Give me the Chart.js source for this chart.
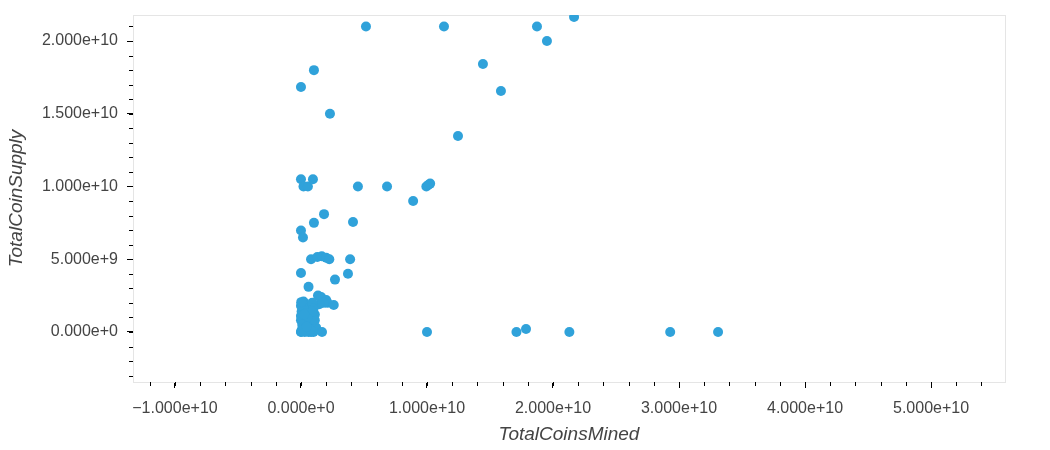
<!DOCTYPE html>
<html>
<head>
<meta charset="utf-8">
<script src="https://cdn.jsdelivr.net/npm/chart.js@4/dist/chart.umd.min.js"></script>
<style>
  html, body { margin: 0; padding: 0; background: #fff; }
  #wrap { width: 1050px; height: 450px; }
</style>
</head>
<body>
<div id="wrap"><canvas id="chart" width="1050" height="450"></canvas></div>
<script>
// Data (coins mined vs coin supply)
const coinsMined = [
    5.16e9, 1.135e10, 1.873e10, 2.167e10, 1.952e10, 1.444e10, 1.587e10, 1.246e10,
    1.03e9, 0, 2.3e9,
    0, 0.2e9, 0.55e9, 0.95e9, 4.52e9, 6.83e9, 8.9e9, 9.95e9, 1.01e10, 1.025e10,
    1.83e9, 1.03e9, 4.13e9, 0, 0.16e9,
    0, 0.8e9, 1.3e9, 1.65e9, 2.0e9, 2.25e9, 3.9e9, 3.73e9, 2.7e9, 0.6e9,
    1.35e9, 1.6e9, 2.0e9, 2.1e9, 2.6e9, 1.8e9, 1.45e9,
    0, 0.02e9, 0.05e9, 0.1e9, 0.15e9, 0.2e9, 0.3e9, 0.4e9, 0.5e9, 0.6e9, 0.7e9,
    0.8e9, 0.9e9, 1.0e9, 1.1e9, 0.05e9, 0.1e9, 0.2e9, 0.3e9, 0.5e9, 0.7e9,
    0.9e9, 1.0e9, 0, 0, 0, 0.02e9, 0.4e9, 0.6e9, 0.8e9, 1.0e9, 1.2e9, 0.3e9,
    1.1e9, 0.9e9, 0.2e9, 0.5e9, 0.1e9, 0.75e9, 0.45e9, 0.25e9,
    1.67e9, 1.0e10, 1.71e10, 1.786e10, 2.13e10, 2.93e10, 3.31e10
];
const coinSupply = [
    2.1e10, 2.1e10, 2.1e10, 2.165e10, 2.0e10, 1.842e10, 1.656e10, 1.347e10,
    1.8e10, 1.684e10, 1.5e10,
    1.05e10, 1.0e10, 1.0e10, 1.05e10, 1.0e10, 1.0e10, 9.0e9, 1.0e10, 1.01e10, 1.02e10,
    8.1e9, 7.5e9, 7.56e9, 6.97e9, 6.5e9,
    4.05e9, 5.0e9, 5.15e9, 5.2e9, 5.1e9, 5.0e9, 5.0e9, 4.0e9, 3.6e9, 3.1e9,
    2.5e9, 2.4e9, 2.2e9, 2.0e9, 1.85e9, 2.0e9, 1.9e9,
    0, 0.01e9, 0.1e9, 0.2e9, 0.05e9, 0.3e9, 0.5e9, 0.1e9, 0.6e9, 0.9e9, 0.4e9,
    1.0e9, 0.2e9, 0.7e9, 1.2e9, 1.4e9, 1.9e9, 2.1e9, 1.6e9, 1.8e9, 1.5e9,
    2.0e9, 1.6e9, 0.8e9, 1.1e9, 1.8e9, 2.05e9, 1.3e9, 0, 0, 0, 0.3e9, 0,
    0.8e9, 1.4e9, 0.9e9, 1.0e9, 0.5e9, 0.15e9, 0.35e9, 1.2e9,
    0, 0, 0, 0.2e9, 0, 0, 0
];
const xTicks = [-1e10, 0, 1e10, 2e10, 3e10, 4e10, 5e10];
const yTicks = [0, 5e9, 1e10, 1.5e10, 2e10];
const xMinorStep = 2e9;
const yMinorStep = 1e9;

const points = coinsMined.map((x, i) => ({ x: x, y: coinSupply[i] }));

const fmt = v => v.toExponential(3).replace('-', '\u2212');
const tickFont = { family: "'Liberation Sans', Arial, sans-serif", size: 16 };
const titleFont = { family: "'Liberation Sans', Arial, sans-serif", size: 19, style: 'italic' };

// outline of the plot frame + minor ticks, like the original
const framePlugin = {
    id: 'frame',
    beforeDatasetsDraw(chart) {
        const a = chart.chartArea, ctx = chart.ctx;
        ctx.save();
        ctx.strokeStyle = '#e5e5e5';
        ctx.lineWidth = 1;
        ctx.strokeRect(a.left + 0.5, a.top + 0.5, a.right - a.left, a.bottom - a.top);
        ctx.restore();
    },
    afterDraw(chart) {
        const ctx = chart.ctx, xs = chart.scales.x, ys = chart.scales.y;
        ctx.save();
        ctx.strokeStyle = '#000';
        ctx.lineWidth = 1;
        ctx.beginPath();
        for (let v = Math.ceil(xs.min / xMinorStep) * xMinorStep; v <= xs.max; v += xMinorStep) {
            const px = Math.round(xs.getPixelForValue(v)) + 0.5;
            ctx.moveTo(px, xs.top);
            ctx.lineTo(px, xs.top + 4);
        }
        for (let v = Math.ceil(ys.min / yMinorStep) * yMinorStep; v <= ys.max; v += yMinorStep) {
            const py = Math.round(ys.getPixelForValue(v)) + 0.5;
            ctx.moveTo(ys.right, py);
            ctx.lineTo(ys.right - 4, py);
        }
        ctx.stroke();
        ctx.restore();
    }
};

new Chart(document.getElementById('chart'), {
    type: 'scatter',
    data: {
        datasets: [{
            data: points,
            backgroundColor: '#30a2da',
            borderWidth: 0,
            pointRadius: 5,
            pointHoverRadius: 5
        }]
    },
    options: {
        responsive: false,
        animation: false,
        events: [],
        layout: { padding: { top: 15, right: 45, left: 0, bottom: 0 } },
        plugins: { legend: { display: false }, tooltip: { enabled: false } },
        scales: {
            x: {
                type: 'linear',
                min: -1.333e10,
                max: 5.587e10,
                afterBuildTicks: s => { s.ticks = xTicks.map(v => ({ value: v })); },
                afterFit: s => { s.height = 68; s.paddingLeft = 0; s.paddingRight = 0; },
                ticks: { callback: fmt, color: '#444', font: tickFont, padding: 11, maxRotation: 0 },
                grid: { drawOnChartArea: false, tickLength: 6, color: '#000' },
                border: { display: true, color: '#000' },
                title: { display: true, text: 'TotalCoinsMined', color: '#444', font: titleFont, padding: { top: 0, bottom: 4 } }
            },
            y: {
                type: 'linear',
                min: -3.44e9,
                max: 2.179e10,
                afterBuildTicks: s => { s.ticks = yTicks.map(v => ({ value: v })); },
                afterFit: s => { s.width = 133; s.paddingTop = 0; s.paddingBottom = 0; },
                ticks: { callback: fmt, color: '#444', font: tickFont, padding: 9 },
                grid: { drawOnChartArea: false, tickLength: 6, color: '#000' },
                border: { display: true, color: '#000' },
                title: { display: true, text: 'TotalCoinSupply', color: '#444', font: titleFont, padding: { top: 5, bottom: 0 } }
            }
        }
    },
    plugins: [framePlugin]
});
</script>
</body>
</html>
